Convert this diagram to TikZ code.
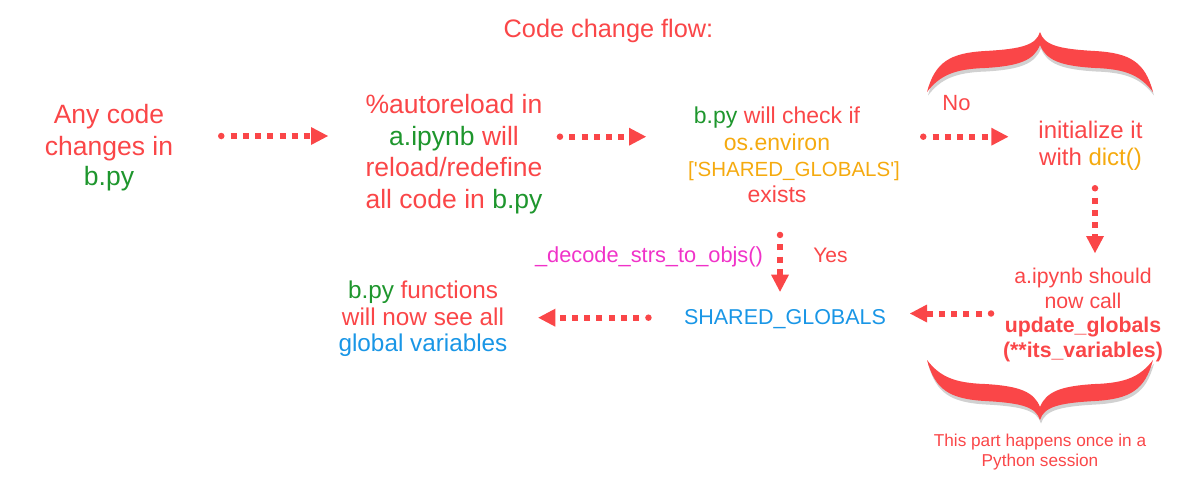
\documentclass[tikz,border=0pt]{standalone}
\usepackage{fontspec}
\setmainfont{Liberation Sans}
\usetikzlibrary{arrows.meta}
\definecolor{cred}{RGB}{250,70,72}
\definecolor{cgreen}{RGB}{30,150,45}
\definecolor{corange}{RGB}{245,170,15}
\definecolor{cblue}{RGB}{25,150,230}
\definecolor{cmag}{RGB}{240,50,200}
\newcommand\fs[1]{\fontsize{#1}{#1}\selectfont}
\tikzset{
  txt/.style={anchor=base, inner sep=0pt, outer sep=0pt, text=cred},
  flow/.style={draw=cred, line width=6pt, dash pattern=on 6pt off 6.2pt, dash phase=6pt,
    arrows={Circle[length=6.5pt,width=6.5pt,line width=0pt]-Triangle[length=17pt,width=18pt,line width=0pt]}},
  curly/.pic={
    \path[pic actions] (-113,60) .. controls (-105,30) and (-90,21) .. (-55,19)
      .. controls (-18,17) and (-4,13) .. (0,0)
      .. controls (4,13) and (18,17) .. (55,19)
      .. controls (90,21) and (105,30) .. (113,60)
      .. controls (100,43) and (85,37) .. (55,36)
      .. controls (20,34) and (6,28) .. (0,13)
      .. controls (-6,28) and (-20,34) .. (-55,36)
      .. controls (-85,37) and (-100,43) .. (-113,60) -- cycle;
  }
}
\begin{document}
\begin{tikzpicture}[x=1pt,y=-1pt]
\useasboundingbox (0,0) rectangle (1178,482);

% title
\node[txt, font=\fs{25.3}] (title) at (608.5,37) {Code change flow:};

% block 1
\node[txt, font=\fs{26.5}] (b1a) at (109,123.3) {Any code};
\node[txt, font=\fs{26.5}] (b1b) at (109,155) {changes in};
\node[txt, font=\fs{26.5}, text=cgreen] (b1c) at (109,185) {b.py};

% block 2
\node[txt, font=\fs{26.5}] (b2a) at (454,113.5) {\%autoreload in};
\node[txt, font=\fs{26.5}] (b2b) at (454,145) {\textcolor{cgreen}{a.ipynb} will};
\node[txt, font=\fs{26.5}] (b2c) at (454,176.7) {reload/redefine};
\node[txt, font=\fs{26.5}] (b2d) at (454,208.3) {all code in \textcolor{cgreen}{b.py}};

% block 3
\node[txt, font=\fs{23}] (b3a) at (777,123.3) {\textcolor{cgreen}{b.py} will check if};
\node[txt, font=\fs{23}, text=corange] (b3b) at (777,150) {os.environ};
\node[txt, font=\fs{20.5}, text=corange] (b3c) at (794,176.7) {[\textquotesingle SHARED\_GLOBALS\textquotesingle]};
\node[txt, font=\fs{23}] (b3d) at (777,202.3) {exists};

% No branch
\node[txt, font=\fs{22}] (no) at (956.5,110.7) {No};
\node[txt, font=\fs{24}] (b4a) at (1090.5,138) {initialize it};
\node[txt, font=\fs{24}] (b4b) at (1090.5,165) {with \textcolor{corange}{dict()}};

% a.ipynb block
\node[txt, font=\fs{21.3}] (b5a) at (1083,283.3) {a.ipynb should};
\node[txt, font=\fs{21.3}] (b5b) at (1083,308.3) {now call};
\node[txt, font=\fs{21.3}\bfseries] (b5c) at (1083,332.7) {update\_globals};
\node[txt, font=\fs{21.3}\bfseries] (b5d) at (1083,357.3) {(**its\_variables)};

% shared globals
\node[txt, font=\fs{21.5}, text=cblue] (sg) at (785,324.3) {SHARED\_GLOBALS};
\node[txt, font=\fs{21.8}, text=cmag] (dec) at (649,262) {\_decode\_strs\_to\_objs()};
\node[txt, font=\fs{21}] (yes) at (830.5,262) {Yes};

% final block
\node[txt, font=\fs{24.3}] (b6a) at (423,298.3) {\textcolor{cgreen}{b.py} functions};
\node[txt, font=\fs{24.3}] (b6b) at (423,325) {will now see all};
\node[txt, font=\fs{24.3}, text=cblue] (b6c) at (423,351) {global variables};

% note
\node[txt, font=\fs{17.2}] (n1) at (1040,446) {This part happens once in a};
\node[txt, font=\fs{17.2}] (n2) at (1040,466) {Python session};

% braces
\pic[fill=black, opacity=0.18] at (1041,35.5) {curly};
\pic[fill=cred] at (1040,32) {curly};
\pic[fill=black, opacity=0.18, yscale=-1] at (1041,423.5) {curly};
\pic[fill=cred, yscale=-1] at (1040,420) {curly};

% arrow end points
\coordinate (a1s) at (218,136);   \coordinate (a1e) at (328,136);
\coordinate (a2s) at (556.7,136.7); \coordinate (a2e) at (646,136.7);
\coordinate (a3s) at (920,136.7); \coordinate (a3e) at (1008.3,136.7);
\coordinate (d1s) at (1095,185);  \coordinate (d1e) at (1095,253);
\coordinate (l1s) at (994.3,313.5); \coordinate (l1e) at (910,313.5);
\coordinate (d2s) at (780,231.7); \coordinate (d2e) at (780,291.7);
\coordinate (l2s) at (651.7,317.7); \coordinate (l2e) at (538.3,317.7);

\draw[flow] (a1s) -- (a1e);
\draw[flow] (a2s) -- (a2e);
\draw[flow] (a3s) -- (a3e);
\draw[flow] (d1s) -- (d1e);
\draw[flow] (l1s) -- (l1e);
\draw[flow] (d2s) -- (d2e);
\draw[flow] (l2s) -- (l2e);
\end{tikzpicture}
\end{document}
